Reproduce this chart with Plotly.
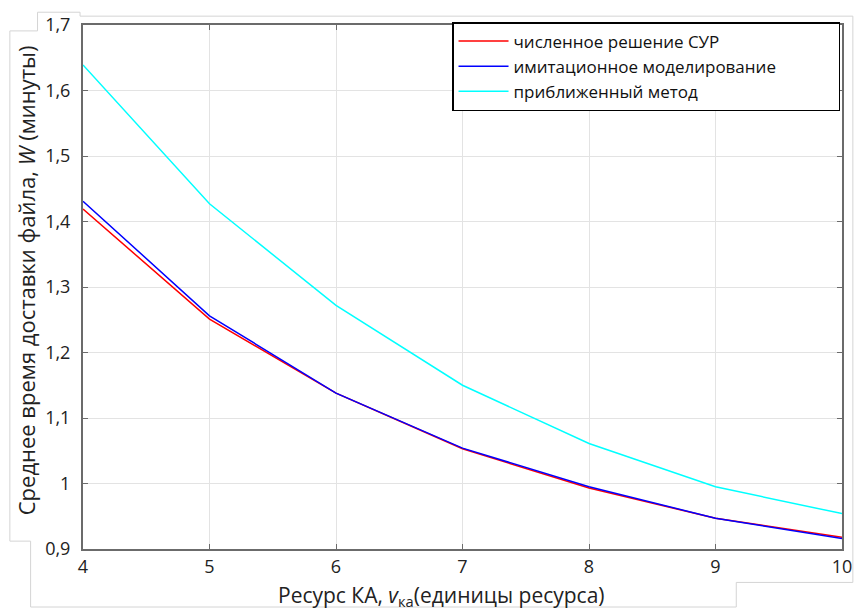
import plotly.graph_objects as go

# ---- data ----
resource = [4, 5, 6, 7, 8, 9, 10]
numeric_sur = [1.419, 1.251, 1.138, 1.053, 0.993, 0.947, 0.918]
simulation = [1.431, 1.256, 1.138, 1.054, 0.995, 0.947, 0.916]
approx_method = [1.639, 1.427, 1.272, 1.150, 1.061, 0.995, 0.954]

series_names = ["численное решение СУР", "имитационное моделирование", "приближенный метод"]
series_colors = ["#ff0000", "#0000ff", "#00ffff"]

y_tickvals = [0.9, 1.0, 1.1, 1.2, 1.3, 1.4, 1.5, 1.6, 1.7]
y_ticktext = ["0,9", "1", "1,1", "1,2", "1,3", "1,4", "1,5", "1,6", "1,7"]
x_tickvals = [4, 5, 6, 7, 8, 9, 10]

x_title = "Ресурс КА, <i>v</i><sub>ка</sub>(единицы ресурса)"
y_title = "Среднее время доставки файла, <i>W</i> (минуты)"

W, H = 864, 612
L, R, T, B = 83, 13, 16, 63
FONT = "Open Sans"

fig = go.Figure()
for name, ys, col in zip(series_names, [numeric_sur, simulation, approx_method], series_colors):
    fig.add_trace(go.Scatter(x=resource, y=ys, mode="lines", name=name,
                             line=dict(color=col, width=1.5)))

# light-grey frame of the pasted picture (decoration)
pw, ph = W - L - R, H - T - B
def px(x):
    return (x - L) / pw
def py(y):
    return (H - B - y) / ph
frame_pts = [(37, 22), (37, 3), (80, 3), (80, 7), (862, 7), (862, 583), (744, 583),
             (744, 608), (30, 608), (30, 541), (9, 541), (9, 22), (37, 22)]
path = "M " + " L ".join(f"{px(a):.5f},{py(b):.5f}" for a, b in frame_pts)
fig.add_shape(type="path", path=path, xref="paper", yref="paper",
              line=dict(color="#d4d4d4", width=1), layer="below")

axis_common = dict(showline=True, linecolor="#6b6b6b", linewidth=2, mirror="ticks",
                   ticks="inside", ticklen=5, tickcolor="#6b6b6b", tickwidth=1,
                   showgrid=True, gridcolor="#e3e3e3", gridwidth=1, zeroline=False,
                   tickfont=dict(family=FONT, size=18, color="#222222"))

fig.add_annotation(text=x_title, xref="paper", yref="paper", x=px(446), y=py(597),
                   xanchor="center", yanchor="middle", showarrow=False,
                   font=dict(family=FONT, size=21, color="#222222"))
fig.add_annotation(text=y_title, xref="paper", yref="paper", x=px(25), y=py(276),
                   xanchor="center", yanchor="middle", showarrow=False, textangle=-90,
                   font=dict(family=FONT, size=22, color="#222222"))

fig.update_layout(
    width=W, height=H,
    margin=dict(l=L, r=R, t=T, b=B),
    paper_bgcolor="white", plot_bgcolor="white",
    font=dict(family=FONT, color="#222222"),
    xaxis=dict(range=[4, 10], tickvals=x_tickvals, ticklabelstandoff=0, **axis_common),
    yaxis=dict(range=[0.9, 1.7], tickvals=y_tickvals, ticktext=y_ticktext,
               ticklabelstandoff=7, **axis_common),
    legend=dict(x=px(849), y=py(13), xanchor="right", yanchor="top",
                orientation="h", entrywidth=320, entrywidthmode="pixels",
                bgcolor="white", bordercolor="#000000", borderwidth=1.5,
                font=dict(family=FONT, size=17, color="#111111"),
                tracegroupgap=0, itemwidth=50),
    showlegend=True,
)

fig.write_html("out.html")
